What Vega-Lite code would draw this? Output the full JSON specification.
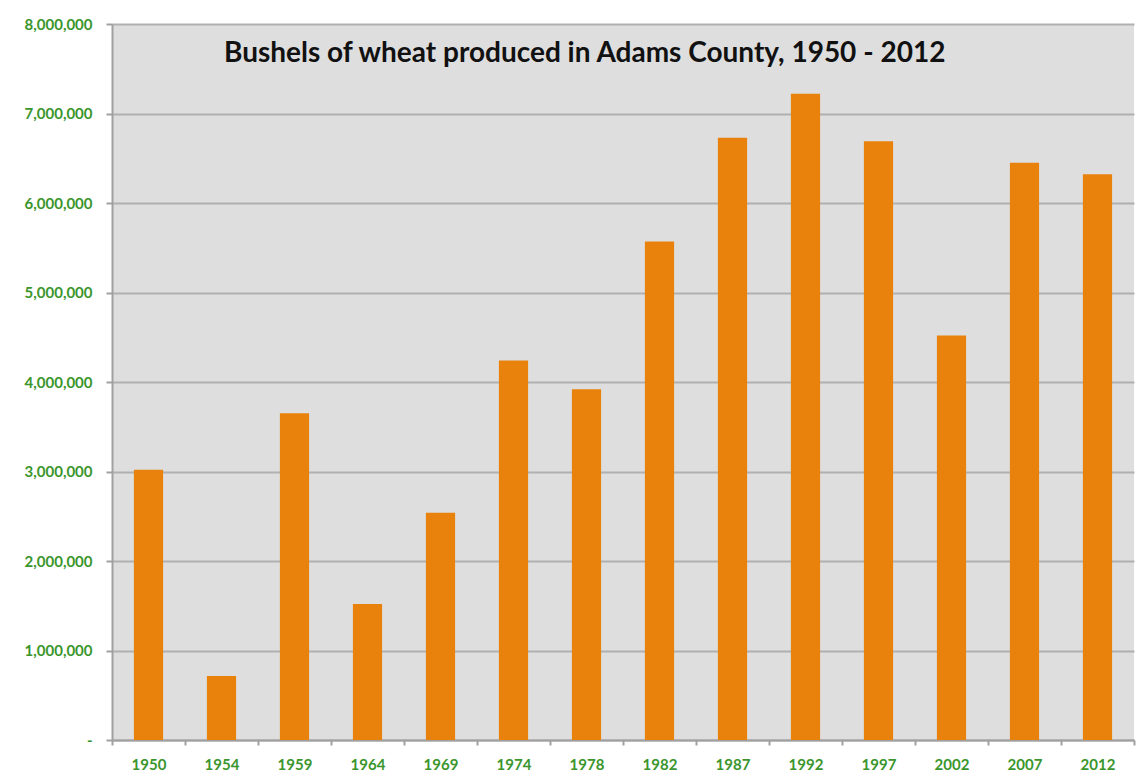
{
  "$schema": "https://vega.github.io/schema/vega-lite/v6.json",
  "autosize": "none",
  "width": 1022,
  "height": 716,
  "padding": {"left": 112, "top": 24, "right": 10, "bottom": 42},
  "background": "#ffffff",
  "title": {
    "text": "Bushels of wheat produced in Adams County, 1950 - 2012",
    "anchor": "start",
    "frame": "group",
    "dx": 112,
    "offset": -38,
    "dy": 35,
    "baseline": "alphabetic",
    "font": "Lato",
    "fontSize": 28,
    "fontWeight": "bold",
    "color": "#111111"
  },
  "data": {
    "values": [
      {"year": "1950", "bushels": 3020000},
      {"year": "1954", "bushels": 714000},
      {"year": "1959", "bushels": 3650000},
      {"year": "1964", "bushels": 1520000},
      {"year": "1969", "bushels": 2540000},
      {"year": "1974", "bushels": 4240000},
      {"year": "1978", "bushels": 3920000},
      {"year": "1982", "bushels": 5570000},
      {"year": "1987", "bushels": 6730000},
      {"year": "1992", "bushels": 7220000},
      {"year": "1997", "bushels": 6690000},
      {"year": "2002", "bushels": 4520000},
      {"year": "2007", "bushels": 6450000},
      {"year": "2012", "bushels": 6320000}
    ]
  },
  "mark": {"type": "bar", "color": "#E8820C", "width": {"band": 0.4}},
  "encoding": {
    "x": {
      "field": "year",
      "type": "ordinal",
      "sort": null,
      "scale": {"paddingInner": 0, "paddingOuter": 0},
      "axis": {
        "title": null,
        "labelAngle": 0,
        "tickBand": "extent",
        "grid": false,
        "domainColor": "#a0a0a0",
        "domainWidth": 2,
        "tickColor": "#a0a0a0",
        "tickWidth": 2,
        "tickSize": 5,
        "labelPadding": 12,
        "labelFont": "Lato",
        "labelFontSize": 15,
        "labelFontWeight": "bold",
        "labelColor": "#3a962c"
      }
    },
    "y": {
      "field": "bushels",
      "type": "quantitative",
      "scale": {"domain": [0, 8000000], "nice": false},
      "axis": {
        "title": null,
        "values": [0, 1000000, 2000000, 3000000, 4000000, 5000000, 6000000, 7000000, 8000000],
        "labelExpr": "datum.value == 0 ? '-\u00a0\u00a0\u00a0' : format(datum.value, ',')",
        "grid": true,
        "gridColor": "#b0b0b0",
        "gridWidth": 2,
        "domainColor": "#a0a0a0",
        "domainWidth": 2,
        "tickColor": "#a0a0a0",
        "tickWidth": 2,
        "tickSize": 6,
        "labelPadding": 14,
        "labelFont": "Lato",
        "labelFontSize": 15,
        "labelFontWeight": "bold",
        "labelColor": "#3a962c"
      }
    }
  },
  "config": {
    "view": {"fill": "#dedede", "stroke": null}
  }
}
